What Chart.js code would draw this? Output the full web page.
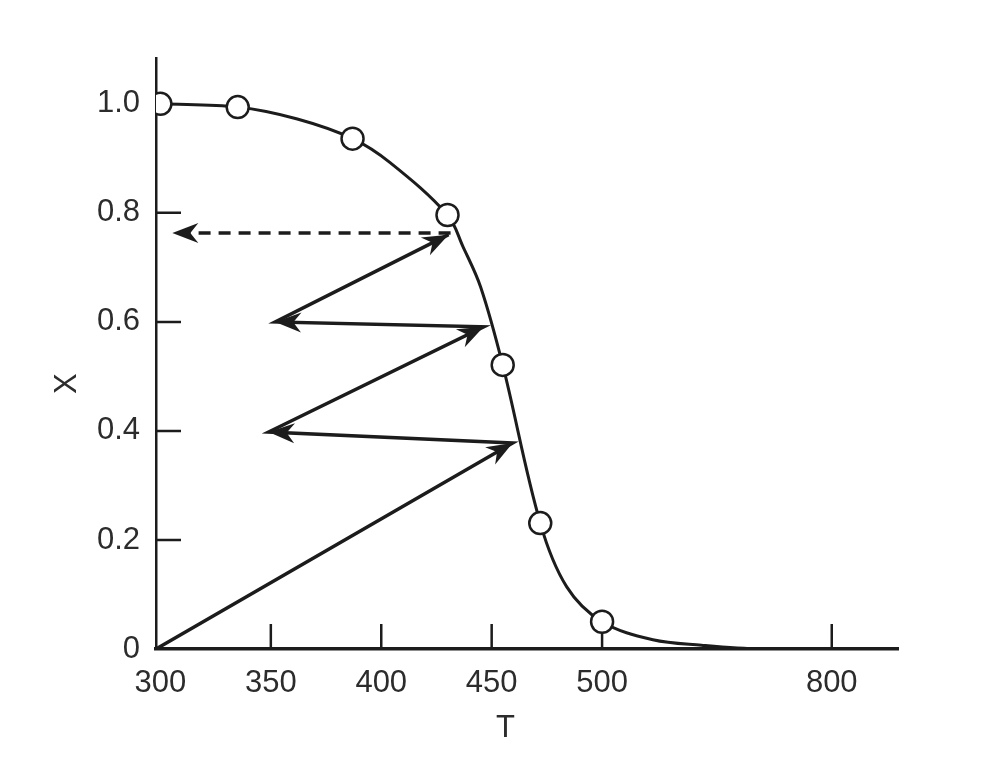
<!DOCTYPE html>
<html>
<head>
<meta charset="utf-8">
<script src="https://cdn.jsdelivr.net/npm/chart.js@4.4.0/dist/chart.umd.min.js"></script>
<style>
html, body { margin: 0; padding: 0; background: #fff; }
#wrap { width: 987px; height: 762px; }
</style>
</head>
<body>
<div id="wrap"><canvas id="myChart"></canvas></div>
<script>
// measured points (open circles)
var pointT = [300, 335, 387, 430, 455, 472, 500];
var pointX = [1.0, 0.994, 0.936, 0.796, 0.521, 0.231, 0.05];

// smooth curve traced through the picture
var curveT = [300, 335, 362, 387, 404, 430, 437, 445, 455, 472, 484, 500, 523, 545, 572, 634];
var curveX = [1.0, 0.994, 0.972, 0.936, 0.892, 0.796, 0.738, 0.664, 0.521, 0.231, 0.114, 0.05, 0.017, 0.007, 0.0, 0.0];

// zigzag arrows, every point after the first is an arrow tip
var stepT = [298, 459.5, 349, 446.4, 352, 430.5];
var stepX = [0, 0.378, 0.398, 0.591, 0.6, 0.76];

// dashed arrow back to the axis
var dashT = [431.4, 305.4];
var dashX = [0.763, 0.763];

var xTicks = [300, 350, 400, 450, 500, 604];
var xTickLabels = ['300', '350', '400', '450', '500', '800'];
var yTicks = [0, 0.2, 0.4, 0.6, 0.8, 1.0];
var yTickLabels = ['0', '0.2', '0.4', '0.6', '0.8', '1.0'];

var ink = '#1c1c1c';
var textInk = '#2c2c2c';

function pts(a, b) {
    return a.map(function (t, i) { return { x: t, y: b[i] }; });
}

// arrow heads at the end of every segment
var arrowHeads = {
    id: 'arrowHeads',
    afterDatasetsDraw: function (chart) {
        var ctx = chart.ctx;
        chart.data.datasets.forEach(function (ds, i) {
            if (!ds.arrows) return;
            var p = chart.getDatasetMeta(i).data;
            for (var j = 1; j < p.length; j++) {
                var a = Math.atan2(p[j].y - p[j - 1].y, p[j].x - p[j - 1].x);
                ctx.save();
                ctx.translate(p[j].x, p[j].y);
                ctx.rotate(a);
                ctx.beginPath();
                ctx.moveTo(0, 0);
                ctx.lineTo(-26, -10);
                ctx.lineTo(-18, 0);
                ctx.lineTo(-26, 10);
                ctx.closePath();
                ctx.fillStyle = ink;
                ctx.fill();
                ctx.restore();
            }
        });
    }
};

// tick marks point inwards in the original
var innerTicks = {
    id: 'innerTicks',
    beforeDatasetsDraw: function (chart) {
        var ctx = chart.ctx, x = chart.scales.x, y = chart.scales.y;
        var area = chart.chartArea;
        ctx.save();
        ctx.strokeStyle = ink;
        ctx.lineWidth = 2.5;
        ctx.beginPath();
        xTicks.slice(1).forEach(function (v) {
            var px = x.getPixelForValue(v);
            ctx.moveTo(px, area.bottom);
            ctx.lineTo(px, area.bottom - 25);
        });
        yTicks.slice(1, -1).forEach(function (v) {
            var py = y.getPixelForValue(v);
            ctx.moveTo(area.left, py);
            ctx.lineTo(area.left + 25, py);
        });
        ctx.stroke();
        ctx.restore();
    }
};

var tickFont = { family: 'Liberation Sans', size: 31 };

var ctx = document.getElementById('myChart');
var myChart = new Chart(ctx, {
    type: 'line',
    data: {
        datasets: [
            {
                data: pts(pointT, pointX),
                showLine: false,
                pointRadius: 11,
                pointBackgroundColor: '#fff',
                pointBorderColor: ink,
                pointBorderWidth: 2.5
            },
            {
                data: pts(curveT, curveX),
                borderColor: ink,
                borderWidth: 3,
                pointRadius: 0,
                tension: 0.35
            },
            {
                data: pts(stepT, stepX),
                borderColor: ink,
                borderWidth: 3.5,
                pointRadius: 0,
                tension: 0,
                arrows: true
            },
            {
                data: pts(dashT, dashX),
                borderColor: ink,
                borderWidth: 3.5,
                borderDash: [12, 8],
                pointRadius: 0,
                arrows: true
            }
        ]
    },
    plugins: [innerTicks, arrowHeads],
    options: {
        responsive: true,
        maintainAspectRatio: false,
        animation: false,
        events: [],
        layout: { padding: { top: 58, right: 89, bottom: 0, left: 0 } },
        plugins: { legend: { display: false }, tooltip: { enabled: false } },
        scales: {
            x: {
                type: 'linear',
                min: 298,
                max: 634,
                afterFit: function (s) { s.height = 113; },
                afterBuildTicks: function (s) {
                    s.ticks = xTicks.map(function (v) { return { value: v }; });
                },
                grid: { display: false, drawTicks: false },
                border: { display: true, color: ink, width: 3.5 },
                ticks: {
                    autoSkip: false,
                    maxRotation: 0,
                    padding: 16,
                    color: textInk,
                    font: tickFont,
                    callback: function (v, i) { return xTickLabels[i]; }
                },
                title: {
                    display: true,
                    text: 'T     ',
                    color: textInk,
                    font: tickFont,
                    padding: { top: 0, bottom: 15 }
                }
            },
            y: {
                type: 'linear',
                min: 0,
                max: 1.084,
                afterFit: function (s) { s.width = 156; },
                afterBuildTicks: function (s) {
                    s.ticks = yTicks.map(function (v) { return { value: v }; });
                },
                grid: { display: false, drawTicks: false },
                border: { display: true, color: ink, width: 2.5 },
                ticks: {
                    autoSkip: false,
                    padding: 16,
                    color: textInk,
                    font: tickFont,
                    callback: function (v, i) { return yTickLabels[i]; }
                },
                title: {
                    display: true,
                    text: 'X       ',
                    color: textInk,
                    font: tickFont,
                    padding: { top: 49, bottom: 0 }
                }
            }
        }
    }
});
</script>
</body>
</html>
